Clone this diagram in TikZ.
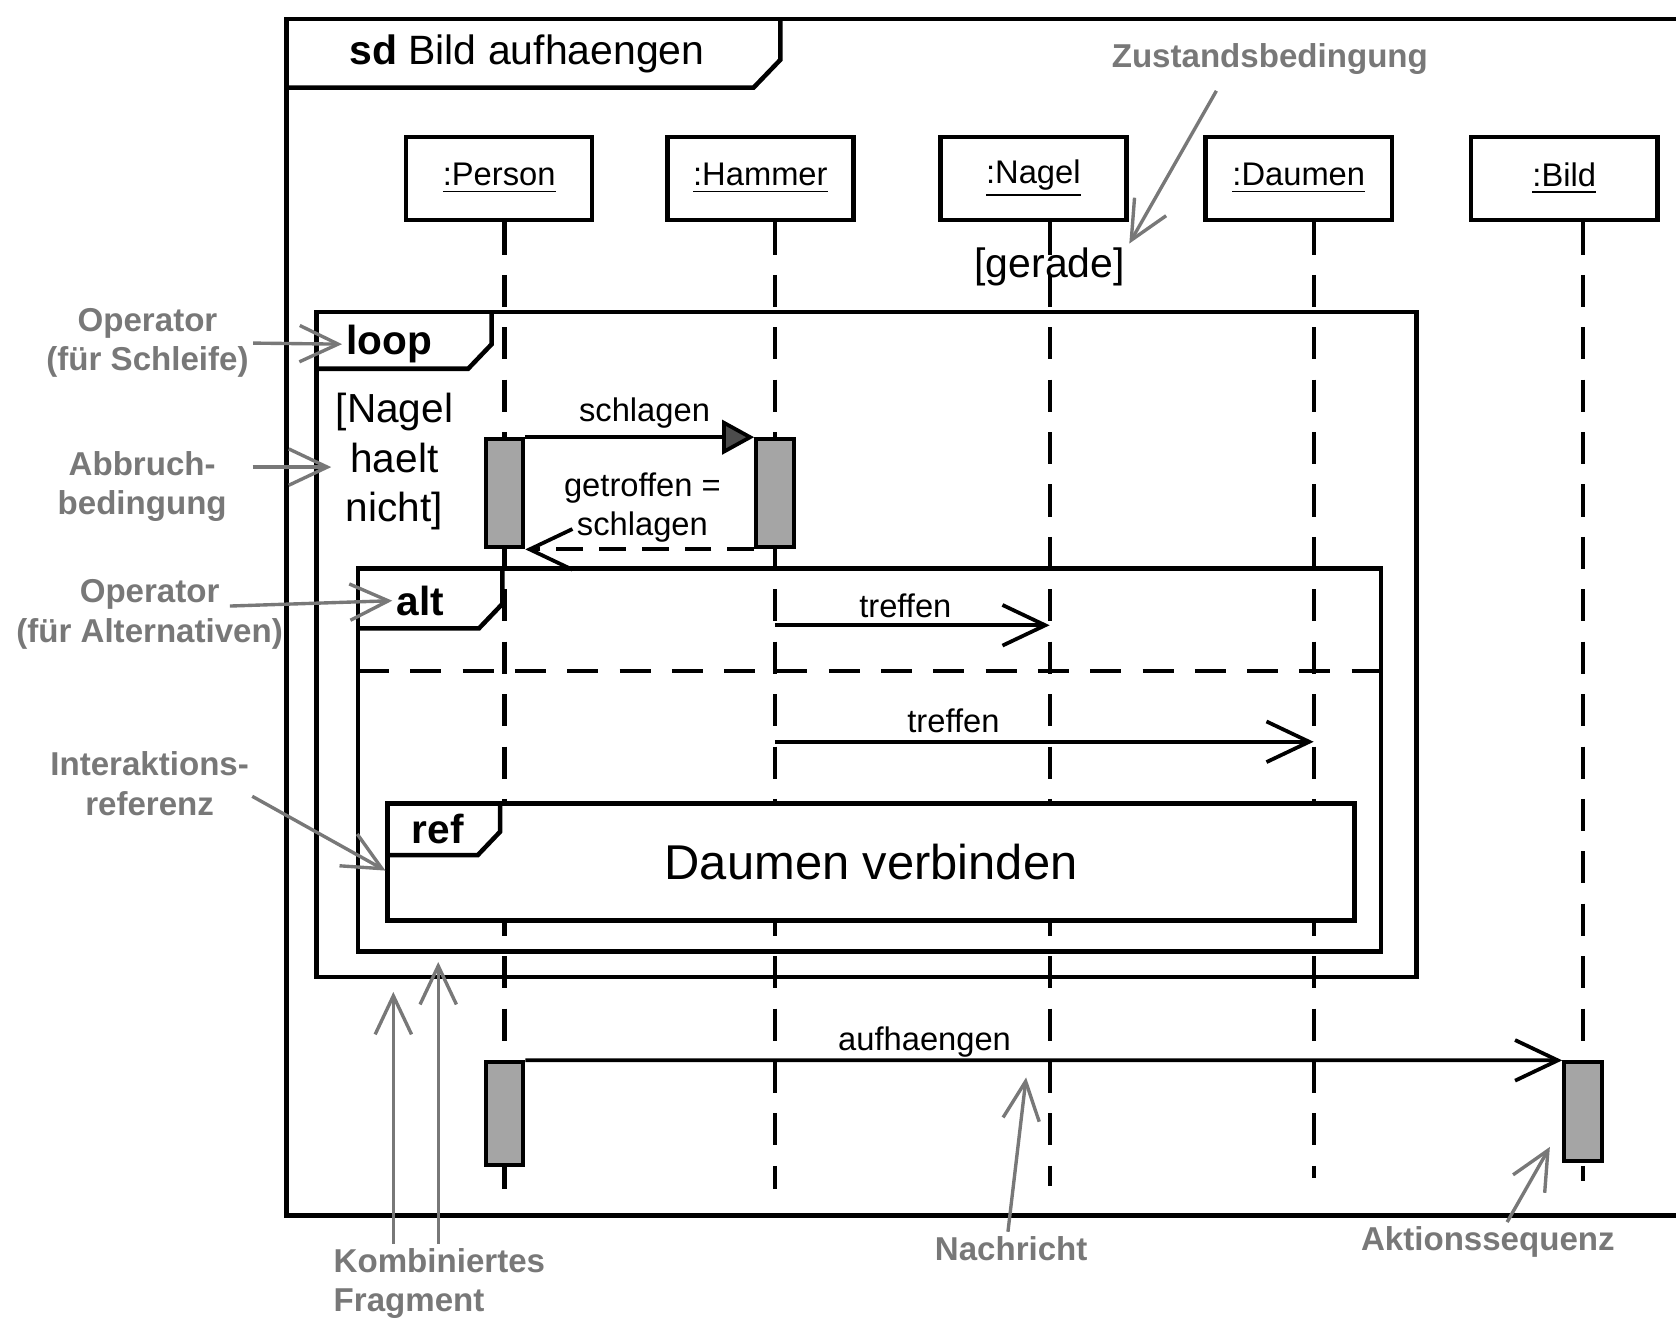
\documentclass[tikz,border=0pt]{standalone}
\usepackage{fontspec}
\setmainfont{Liberation Sans}
\usetikzlibrary{arrows.meta,positioning}
\definecolor{notegray}{RGB}{120,120,120}
\definecolor{barfill}{RGB}{165,165,165}

\begin{document}
\begin{tikzpicture}[x=0.01cm, y=-0.01cm,
  every node/.style={font=\fontsize{8.7}{10.5}\selectfont, inner sep=1pt},
  lifehead/.style={draw, line width=1.2pt, minimum width=1.74cm, minimum height=0.78cm, inner sep=0pt},
  lifeline/.style={line width=1.1pt, dash pattern=on 0.3cm off 0.19cm},
  umlframe/.style={line width=1.2pt},
  actbar/.style={draw, line width=1.1pt, fill=barfill, minimum width=0.35cm, inner sep=0pt},
  message/.style={line width=1pt, -{Straight Barb[length=4mm,width=3.8mm]}},
  oplabel/.style={font=\fontsize{10.8}{13}\selectfont\bfseries, anchor=west},
  notetext/.style={font=\fontsize{8.8}{10.5}\selectfont\bfseries, text=notegray, align=center},
  notearrow/.style={draw=notegray, line width=0.9pt, -{Straight Barb[length=3.6mm,width=3.4mm]}}]
\useasboundingbox (0,0) rectangle (1568,1237);

\draw[umlframe] (1568,18) -- (268,18) -- (268,1137) -- (1568,1137);
\draw[umlframe] (268,82) -- (705,82) -- (730,56) -- (730,18);
\node[font=\fontsize{10.9}{13}\selectfont] (title) at (493,50) {\textbf{sd} Bild aufhaengen};

\node[lifehead] (person) at (467,167) {\underline{:Person}};
\node[lifehead, right=0.66cm of person] (hammer) {\underline{:Hammer}};
\node[lifehead, right=0.77cm of hammer] (nagel) {\underline{:Nagel}};
\node[lifehead, right=0.7cm of nagel] (daumen) {\underline{:Daumen}};
\node[lifehead, right=0.7cm of daumen] (bild) {\underline{:Bild}};

\coordinate (personEnd) at (472,1112);
\coordinate (hammerEnd) at (725,1112);
\coordinate (nagelEnd) at (982,1110);
\coordinate (daumenEnd) at (1229,1102);
\coordinate (bildEnd) at (1481,1105);
\draw[lifeline] (person.south -| personEnd) -- (personEnd);
\draw[lifeline] (hammer.south -| hammerEnd) -- (hammerEnd);
\draw[lifeline] (nagel.south -| nagelEnd) -- (nagelEnd);
\draw[lifeline] (daumen.south -| daumenEnd) -- (daumenEnd);
\draw[lifeline] (bild.south -| bildEnd) -- (bildEnd);

\node[font=\fontsize{10.9}{13}\selectfont] (gerade) at (982,250) {[gerade]};

\draw[umlframe] (296,292) rectangle (1325,914);
\draw[umlframe] (296,345) -- (438,345) -- (460,322) -- (460,292);
\node[oplabel] (loopop) at (320,322) {loop};
\node[font=\fontsize{10.8}{13.2}\selectfont, align=center] (cond) at (369,432) {[Nagel\\haelt\\nicht]};

\node[actbar, minimum height=1.01cm] (pact1) at (472,461.5) {};
\node[actbar, minimum height=1.01cm] (hact) at (725,461.5) {};
\draw[line width=1pt, -{Triangle[length=3mm,width=3.2mm,fill=black!70]}] (pact1.north east) -- (hact.north west);
\node (schlagen) at (603,386) {schlagen};
\draw[message, dash pattern=on 0.25cm off 0.15cm] (hact.south west) -- (pact1.south east);
\node[align=center] (getroffen) at (601,475) {getroffen =\\schlagen};

\draw[umlframe] (335,532) rectangle (1292,890);
\draw[umlframe] (335,588) -- (448,588) -- (470,565) -- (470,532);
\node[oplabel] (altop) at (367,562) {alt};
\draw[line width=1.1pt, dash pattern=on 0.29cm off 0.199cm] (335,628) -- (1292,628);

\coordinate (treffA) at (725,585);
\coordinate (treffB) at (982,585);
\draw[message] (treffA) -- (treffB);
\node (treffen1) at (847,567) {treffen};
\coordinate (treffC) at (725,694);
\coordinate (treffD) at (1229,694);
\draw[message] (treffC) -- (treffD);
\node (treffen2) at (892,674) {treffen};

\node[draw, line width=1.2pt, fill=white, minimum width=9.04cm, minimum height=1.09cm, font=\fontsize{13}{15}\selectfont] (refbox) at (815,806.5) {Daumen verbinden};
\draw[umlframe] (363,800) -- (447,800) -- (468,778) -- (468,752);
\node[oplabel] (refop) at (381,776) {ref};

\node[actbar, minimum height=0.96cm] (pact2) at (472,1042) {};
\node[actbar, minimum height=0.92cm] (bact) at (1481,1040) {};
\draw[message] (pact2.north east) -- (bact.north west);
\node (aufhaengen) at (865,975) {aufhaengen};

\node[notetext] (zust) at (1188,55) {Zustandsbedingung};
\node[notetext] (oploop) at (138,321) {Operator\\(für Schleife)};
\node[notetext] (abbruch) at (133,455) {Abbruch-\\bedingung};
\node[notetext] (opalt) at (140,575) {Operator\\(für Alternativen)};
\node[notetext] (intref) at (140,733) {Interaktions-\\referenz};
\node[notetext, align=left, anchor=west] (komb) at (308,1201) {Kombiniertes\\Fragment};
\node[notetext] (nachricht) at (946,1168) {Nachricht};
\node[notetext] (aktion) at (1392,1162) {Aktionssequenz};

\coordinate (zustA) at (1138,85);
\draw[notearrow] (zustA) -- (gerade.north east);
\draw[notearrow] (oploop.east) -- (loopop.west);
\draw[notearrow] ([xshift=0.2cm,yshift=-0.05cm]abbruch.east |- cond.west) -- ([yshift=-0.05cm]cond.west);
\coordinate (opaltA) at (215,567);
\draw[notearrow] (opaltA) -- (altop.west);
\coordinate (intrefA) at (236,745);
\draw[notearrow] (intrefA) -- ([yshift=-0.08cm]refbox.west);
\coordinate (kombLoop) at (368,928);
\coordinate (kombAlt) at (410,900);
\draw[notearrow] (kombLoop |- komb.north) -- (kombLoop);
\draw[notearrow] (kombAlt |- komb.north) -- (kombAlt);
\coordinate (nachTip) at (960,1008);
\draw[notearrow] ([xshift=-0.03cm]nachricht.north) -- (nachTip);
\coordinate (aktTip) at (1450,1073);
\draw[notearrow] ([xshift=0.18cm]aktion.north) -- (aktTip);
\end{tikzpicture}
\end{document}
